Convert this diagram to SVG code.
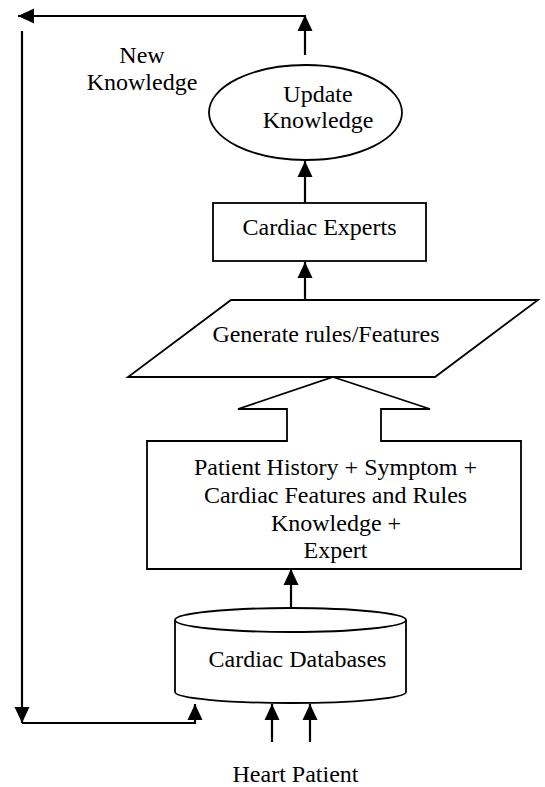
<svg xmlns="http://www.w3.org/2000/svg" width="545" height="787" viewBox="0 0 545 787">
<defs>
<marker id="ah" markerWidth="16" markerHeight="16" viewBox="0 0 16 16" refX="16" refY="8" orient="auto" markerUnits="userSpaceOnUse">
<path d="M0,0.5 L16,8 L0,15.5 Z" fill="#000"/>
</marker>
<style>
.shape{fill:#fff;stroke:#000;stroke-width:1.8}
.conn{fill:none;stroke:#000;stroke-width:2.2}
text{font-family:"Liberation Serif","Times New Roman",serif;font-size:24px;fill:#000;text-anchor:middle}
</style>
</defs>
<rect width="545" height="787" fill="#fff"/>
<g id="connectors">
<path class="conn" d="M305,16 L18,16" marker-end="url(#ah)"/>
<path class="conn" d="M305,55 L305,15" marker-end="url(#ah)"/>
<path class="conn" d="M22,31 L22,723" marker-end="url(#ah)"/>
<path class="conn" d="M22,723 L195,723 L195,704" marker-end="url(#ah)"/>
<path class="conn" d="M305,203 L305,161" marker-end="url(#ah)"/>
<path class="conn" d="M305,300 L305,262" marker-end="url(#ah)"/>
<path class="conn" d="M291,608 L291,569" marker-end="url(#ah)"/>
<path class="conn" d="M272,742 L272,704" marker-end="url(#ah)"/>
<path class="conn" d="M310,742 L310,704" marker-end="url(#ah)"/>
</g>
<g id="new-knowledge-label">
<text x="142" y="63">New</text>
<text x="142" y="90">Knowledge</text>
</g>
<g id="update-knowledge">
<ellipse class="shape" cx="305.5" cy="112.5" rx="96.5" ry="47.5"/>
<text x="318" y="102">Update</text>
<text x="318" y="128">Knowledge</text>
</g>
<g id="cardiac-experts">
<rect class="shape" x="213" y="203" width="213" height="58"/>
<text x="319.5" y="235">Cardiac Experts</text>
</g>
<g id="generate-rules">
<path class="shape" d="M231,300 L538,300 L435,377 L128,377 Z"/>
<text x="326" y="342">Generate rules/Features</text>
</g>
<g id="patient-history">
<path class="shape" d="M333,377 L430,409 L381,409 L381,441 L521,441 L521,569 L147,569 L147,441 L287,441 L287,409 L238,409 Z"/>
<text x="335.5" y="475">Patient History + Symptom +</text>
<text x="335.5" y="503">Cardiac Features and Rules</text>
<text x="336" y="531">Knowledge +</text>
<text x="335.5" y="558">Expert</text>
</g>
<g id="cardiac-databases">
<path class="shape" d="M175,620 L175,692 A115.5,11 0 0 0 406,692 L406,620"/>
<ellipse class="shape" cx="290.5" cy="620" rx="115.5" ry="12"/>
<text x="297.5" y="667">Cardiac Databases</text>
</g>
<g id="heart-patient">
<text x="295.5" y="782">Heart Patient</text>
</g>
</svg>
